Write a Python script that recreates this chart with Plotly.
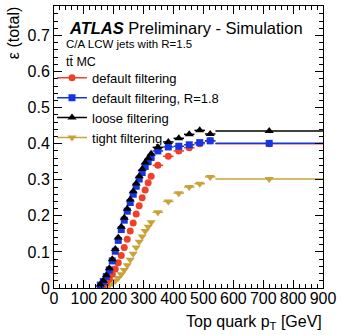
import plotly.graph_objects as go

# ---- data ----
pt_centers = [155, 165, 175, 185, 195, 205, 215, 225, 235, 245, 255, 265, 275, 285,
              295, 305, 315, 325, 347.5, 382.5, 417.5, 452.5, 487.5, 522.5, 720]
pt_halfwidth = [5] * 18 + [17.5] * 6 + [180]

eff_default = [0.003, 0.007, 0.014, 0.025, 0.038, 0.053, 0.070, 0.090, 0.112, 0.135,
               0.158, 0.180, 0.205, 0.228, 0.250, 0.272, 0.292, 0.310, 0.340, 0.365,
               0.380, 0.389, 0.400, 0.408, 0.400]
eff_default_r18 = [0.008, 0.018, 0.032, 0.050, 0.075, 0.102, 0.132, 0.162, 0.188, 0.213,
                   0.237, 0.260, 0.282, 0.302, 0.320, 0.337, 0.350, 0.362, 0.380, 0.391,
                   0.393, 0.397, 0.403, 0.408, 0.401]
eff_loose = [0.010, 0.020, 0.035, 0.055, 0.080, 0.108, 0.140, 0.170, 0.195, 0.220,
             0.245, 0.268, 0.290, 0.310, 0.330, 0.348, 0.360, 0.372, 0.390, 0.405,
             0.415, 0.426, 0.437, 0.427, 0.435]
eff_tight = [0.001, 0.002, 0.004, 0.008, 0.013, 0.020, 0.028, 0.038, 0.050, 0.063,
             0.078, 0.095, 0.112, 0.128, 0.143, 0.158, 0.170, 0.182, 0.210, 0.240,
             0.263, 0.280, 0.289, 0.308, 0.302]

series_names = ["default filtering", "default filtering, R=1.8", "loose filtering", "tight filtering"]
series_values = [eff_default, eff_default_r18, eff_loose, eff_tight]
series_colors = ["#f0402a", "#1535e0", "#000000", "#c9a33a"]
series_symbols = ["circle", "square", "triangle-up", "triangle-down"]
series_sizes = [7, 7, 8, 8]

x_ticks = [0, 100, 200, 300, 400, 500, 600, 700, 800, 900]
y_ticks = [0, 0.1, 0.2, 0.3, 0.4, 0.5, 0.6, 0.7]

# ---- layout geometry (pixels) ----
W, H = 341, 335
L, R, T, B = 54, 16, 5, 47
pw, ph = W - L - R, H - T - B
FONT = "Liberation Sans, Arial, Helvetica, sans-serif"


def xp(px):
    return (px - L) / pw


def yp(py):
    return (H - B - py) / ph


fig = go.Figure()

order = [3, 0, 1, 2]
for i in order:
    fig.add_trace(go.Scatter(
        x=pt_centers, y=series_values[i], mode="markers",
        marker=dict(symbol=series_symbols[i], size=series_sizes[i], color=series_colors[i],
                    line=dict(width=0)),
        error_x=dict(type="data", array=pt_halfwidth, color=series_colors[i],
                     thickness=1.5, width=0),
        showlegend=False, hoverinfo="skip",
    ))

# legend entries (line + marker icons)
for i in range(4):
    fig.add_trace(go.Scatter(
        x=[None], y=[None], mode="lines+markers", name=series_names[i],
        marker=dict(symbol=series_symbols[i], size=series_sizes[i], color=series_colors[i]),
        line=dict(color=series_colors[i], width=1.5),
    ))

axis_common = dict(
    showline=True, linecolor="black", linewidth=1, mirror="ticks",
    ticks="inside", ticklen=8, tickwidth=1, tickcolor="black",
    showgrid=False, zeroline=False,
    tickfont=dict(family=FONT, size=16, color="black"),
)

fig.update_xaxes(
    range=[0, 900], tickvals=x_ticks, ticktext=[str(v) for v in x_ticks],
    minor=dict(ticks="inside", ticklen=4, tickwidth=1, tickcolor="black", dtick=20, showgrid=False),
    ticklabelstandoff=-4,
    **axis_common,
)
fig.update_yaxes(
    range=[0, ph / 362.0], tickvals=y_ticks, ticktext=["0", "0.1", "0.2", "0.3", "0.4", "0.5", "0.6", "0.7"],
    minor=dict(ticks="inside", ticklen=4, tickwidth=1, tickcolor="black", dtick=0.02, showgrid=False),
    ticklabelstandoff=0,
    **axis_common,
)

annotations = [
    dict(x=xp(67), y=yp(27), text="<b><i>ATLAS</i></b> Preliminary - Simulation",
         font=dict(family=FONT, size=16.5, color="black")),
    dict(x=xp(64), y=yp(43), text="C/A LCW jets with R=1.5",
         font=dict(family=FONT, size=11.5, color="black")),
    dict(x=xp(64), y=yp(61), text="tt\u0304 MC",
         font=dict(family=FONT, size=12.5, color="black")),
]
for a in annotations:
    a.update(xref="paper", yref="paper", xanchor="left", yanchor="middle", showarrow=False)

annotations.append(dict(x=xp(14), y=yp(32), xref="paper", yref="paper", text="\u03b5 (total)",
                        textangle=-90, showarrow=False, xanchor="center", yanchor="middle",
                        font=dict(family=FONT, size=16, color="black")))
annotations.append(dict(x=xp(326), y=yp(323), xref="paper", yref="paper",
                        text="Top quark p<sub>T</sub> [GeV]",
                        showarrow=False, xanchor="right", yanchor="middle",
                        font=dict(family=FONT, size=16, color="black")))

fig.update_layout(
    width=W, height=H,
    margin=dict(l=L, r=R, t=T, b=B, pad=0),
    paper_bgcolor="white", plot_bgcolor="white",
    annotations=annotations,
    legend=dict(x=xp(52), y=yp(62), xanchor="left", yanchor="top",
                bgcolor="rgba(0,0,0,0)", borderwidth=0, itemwidth=30,
                font=dict(family=FONT, size=13, color="black"),
                tracegroupgap=0, itemclick=False, itemdoubleclick=False),
    showlegend=True,
    hovermode=False,
)

fig.write_html("out.html", config={"displayModeBar": False, "staticPlot": False},
               post_script="document.body.style.margin='0';document.body.style.padding='0';")
